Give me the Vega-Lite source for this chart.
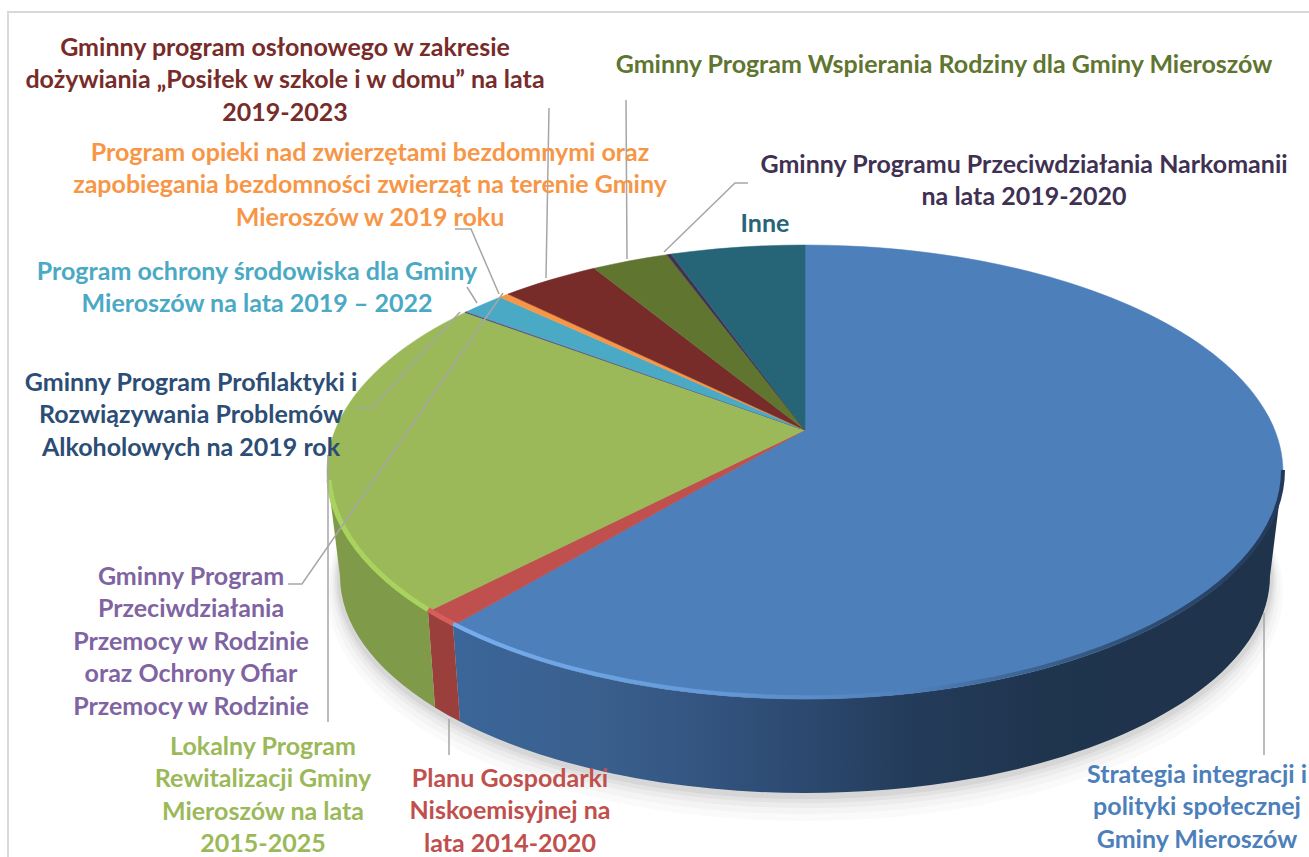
{"$schema":"https://vega.github.io/schema/vega-lite/v6.json","width":1309,"height":857,"autosize":{"type":"none"},"padding":0,"background":"#ffffff","config":{"view":{"stroke":null},"legend":{"disable":true}},"data":{"values":[
{"order":1,"value":60.7,"label":"Strategia integracji i\npolityki społecznej\nGminy Mieroszów"},
{"order":2,"value":1.2,"label":"Planu Gospodarki\nNiskoemisyjnej na\nlata 2014-2020"},
{"order":3,"value":21.6,"label":"Lokalny Program\nRewitalizacji Gminy\nMieroszów na lata\n2015-2025"},
{"order":4,"value":0.1,"label":"Gminny Program Profilaktyki i\nRozwiązywania Problemów\nAlkoholowych na 2019 rok"},
{"order":5,"value":0.1,"label":"Gminny Program\nPrzeciwdziałania\nPrzemocy w Rodzinie\noraz Ochrony Ofiar\nPrzemocy w Rodzinie"},
{"order":6,"value":1.8,"label":"Program ochrony środowiska dla Gminy\nMieroszów na lata 2019 – 2022"},
{"order":7,"value":0.5,"label":"Program opieki nad zwierzętami bezdomnymi oraz\nzapobiegania bezdomności zwierząt na terenie Gminy\nMieroszów w 2019 roku"},
{"order":8,"value":4.3,"label":"Gminny program osłonowego w zakresie\ndożywiania „Posiłek w szkole i w domu” na lata\n2019-2023"},
{"order":9,"value":3.1,"label":"Gminny Program Wspierania Rodziny dla Gminy Mieroszów"},
{"order":10,"value":0.1,"label":"Gminny Programu Przeciwdziałania Narkomanii\nna lata 2019-2020"},
{"order":11,"value":6.5,"label":"Inne"}
]},
"layer":[
{"encoding":{
"x":{"datum":0,"type":"quantitative","axis":null},
"y":{"datum":0,"type":"quantitative","axis":null}
},
"layer":[
{"transform":[{"filter":"datum.order==1"}],"mark":{"type":"point","filled":true,"size":4,"opacity":1,"fill":"#000000","fillOpacity":0.02,"strokeWidth":0,"shape":"M-478,162 A478,229 0 1 0 478,162 A478,229 0 1 0 -478,162 Z"}},
{"transform":[{"filter":"datum.order==1"}],"mark":{"type":"point","filled":true,"size":4,"opacity":1,"fill":"#000000","fillOpacity":0.025,"strokeWidth":0,"shape":"M-475,158 A475,226 0 1 0 475,158 A475,226 0 1 0 -475,158 Z"}},
{"transform":[{"filter":"datum.order==1"}],"mark":{"type":"point","filled":true,"size":4,"opacity":1,"fill":"#000000","fillOpacity":0.03,"strokeWidth":0,"shape":"M-472,154 A472,224 0 1 0 472,154 A472,224 0 1 0 -472,154 Z"}},
{"transform":[{"filter":"datum.order==1"}],"mark":{"type":"point","filled":true,"size":4,"opacity":1,"fill":"#000000","fillOpacity":0.04,"strokeWidth":0,"shape":"M-470,151 A470,222 0 1 0 470,151 A470,222 0 1 0 -470,151 Z"}},
{"transform":[{"filter":"datum.order==1"}],"mark":{"type":"point","filled":true,"size":4,"opacity":1,"fill":"#000000","fillOpacity":0.05,"strokeWidth":0,"shape":"M-468,149 A468,220 0 1 0 468,149 A468,220 0 1 0 -468,149 Z"}},
{"transform":[{"filter":"datum.order==1"}],"mark":{"type":"point","filled":false,"size":4,"opacity":1,"stroke":"#d9d9d9","strokeWidth":2,"shape":"M-797,427 L-797,-418 L504,-418"}},
{"transform":[{"filter":"datum.order==1"}],"mark":{"type":"point","filled":true,"size":4,"opacity":1,"strokeWidth":0,"fill":{"gradient":"linear","x1":0,"y1":0,"x2":1,"y2":0,"stops":[{"offset":0,"color":"#3b6699"},{"offset":0.18,"color":"#3a5f8d"},{"offset":0.35,"color":"#30507a"},{"offset":0.55,"color":"#243c5b"},{"offset":0.72,"color":"#1f344d"},{"offset":1,"color":"#1f334b"}]},"shape":"M478,42 A478,227 0 0 1 -352,195.6 L-345,291.5 A465,217 0 0 0 465,146 Z"}},
{"transform":[{"filter":"datum.order==2"}],"mark":{"type":"point","filled":true,"size":4,"opacity":1,"strokeWidth":0,"fill":"#9a3f3c","shape":"M-352,195.6 A478,227 0 0 1 -377,181.6 L-370,277.4 A465,217 0 0 0 -345,291.5 Z"}},
{"transform":[{"filter":"datum.order==3"}],"mark":{"type":"point","filled":true,"size":4,"opacity":1,"strokeWidth":0,"fill":"#7f9a48","shape":"M-377,181.6 A478,227 0 0 1 -478,42 L-465,146 A465,217 0 0 0 -370,277.4 Z"}},
{"mark":{"type":"point","filled":true,"size":4,"opacity":1,"strokeWidth":0.5},
"encoding":{
"fill":{"field":"order","type":"nominal","scale":{"domain":[1,2,3,4,5,6,7,8,9,10,11],"range":["#4d7fba","#bf504d","#9bb959","#2c4d75","#8064a2","#4aa9c4","#f79646","#772c2a","#5f7530","#403152","#266577"]}},
"stroke":{"field":"order","type":"nominal","scale":{"domain":[1,2,3,4,5,6,7,8,9,10,11],"range":["#4d7fba","#bf504d","#9bb959","#2c4d75","#8064a2","#4aa9c4","#f79646","#772c2a","#5f7530","#403152","#266577"]}},
"shape":{"field":"order","type":"nominal","scale":{"domain":[1,2,3,4,5,6,7,8,9,10,11],"range":[
"M0,0 L0,-185 A478,227 0 1 1 -352,195.6 Z",
"M0,0 L-352,195.6 A478,227 0 0 1 -377,181.6 Z",
"M0,0 L-377,181.6 A478,227 0 0 1 -340,-117.6 Z",
"M0,0 L-340,-117.6 A478,227 0 0 1 -339,-118.1 Z",
"M0,0 L-339,-118.1 A478,227 0 0 1 -338,-118.5 Z",
"M0,0 L-338,-118.5 A478,227 0 0 1 -305,-132.8 Z",
"M0,0 L-305,-132.8 A478,227 0 0 1 -297,-135.9 Z",
"M0,0 L-297,-135.9 A478,227 0 0 1 -211,-161.7 Z",
"M0,0 L-211,-161.7 A478,227 0 0 1 -138,-175.3 Z",
"M0,0 L-138,-175.3 A478,227 0 0 1 -134,-175.9 Z",
"M0,0 L-134,-175.9 A478,227 0 0 1 0,-185 Z"]}},
"tooltip":{"field":"value","type":"quantitative"}}},
{"transform":[{"filter":"datum.order==1"}],"mark":{"type":"point","filled":false,"size":4,"opacity":1,"strokeWidth":4,"stroke":{"gradient":"linear","x1":0,"y1":0,"x2":1,"y2":0,"stops":[{"offset":0,"color":"#78aeee"},{"offset":0.3,"color":"#659ad8"},{"offset":0.55,"color":"#4f80bb"},{"offset":0.7,"color":"#3c628f"},{"offset":0.85,"color":"#2d4b70"},{"offset":1,"color":"#23395a"}]},"shape":"M478,40 A478,227 0 0 1 -352,193.6"}},
{"transform":[{"filter":"datum.order==2"}],"mark":{"type":"point","filled":false,"size":4,"opacity":1,"strokeWidth":5,"stroke":"#d65e5b","shape":"M-352,193.6 A478,227 0 0 1 -377,179.6"}},
{"transform":[{"filter":"datum.order==3"}],"mark":{"type":"point","filled":false,"size":4,"opacity":1,"strokeWidth":5,"stroke":"#a9d35f","shape":"M-377,179.6 A478,227 0 0 1 -476,50"}},
{"transform":[{"filter":"datum.order!=11"}],"mark":{"type":"point","filled":false,"size":4,"opacity":1,"stroke":"#a6a6a6","strokeWidth":1.5},
"encoding":{"shape":{"field":"order","type":"nominal","scale":{"domain":[1,2,3,4,5,6,7,8,9,10],"range":[
"M459,183 L459,325",
"M-356,289 L-356,325",
"M-477,25 L-477,292",
"M-448,-22 L-433,-22 L-345,-118",
"M-517,154 L-503,154 L-302,-137",
"M-338,-143 L-328,-127",
"M-350,-201 L-334,-201 L-306,-136",
"M-256,-322 L-259,-152",
"M-179,-330 L-178,-171",
"M-57,-247 L-70,-247 L-141,-178"]}}}}
],
"resolve":{"scale":{"shape":"independent"}}
},
{"mark":{"type":"text","font":"Lato","fontWeight":"bold","fontSize":25,"align":"center","baseline":"middle","lineBreak":"\n","lineHeight":32.4},
"encoding":{
"x":{"field":"order","type":"quantitative","axis":null,"scale":{"type":"linear","zero":false,"nice":false,"domain":[0,1,2,3,4,5,6,7,8,9,10,11],"range":[805,1197,510,263,191,191,257,370,285,944,1024,765]}},
"y":{"field":"order","type":"quantitative","axis":null,"scale":{"type":"linear","zero":false,"nice":false,"domain":[0,1,2,3,4,5,6,7,8,9,10,11],"range":[430,775,779,747,383,577,272,153,48,65,165,224]}},
"text":{"field":"label","type":"nominal"},
"fill":{"field":"order","type":"nominal"}}}
]
}
